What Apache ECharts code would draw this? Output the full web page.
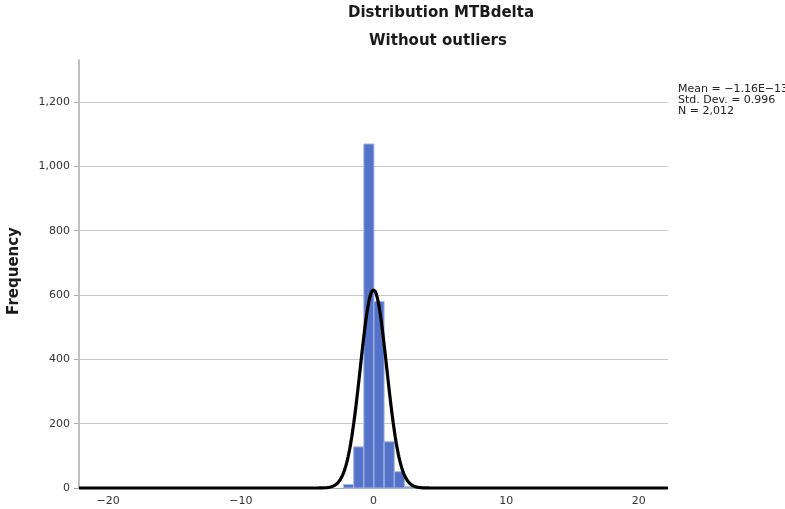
<!DOCTYPE html>
<html>
<head>
<meta charset="utf-8">
<script src="https://cdn.jsdelivr.net/npm/echarts@6/dist/echarts.min.js"></script>
<style>
  html, body { margin: 0; padding: 0; background: #fff; }
  #chart { width: 785px; height: 509px; }
</style>
</head>
<body>
<div id="chart"></div>
<script>
// Histogram of MTBdelta (outliers removed)
const binStart = -2.26;
const binWidth = 0.765;
const frequencies = [11, 128, 1070, 580, 144, 51, 4];

// Summary statistics shown beside the chart
const statMean = -1.16e-13;
const statStdDev = 0.996;
const statN = 2012;
const statLines = ['Mean = \u22121.16E\u221213', 'Std. Dev. = 0.996', 'N = 2,012'];

const yTicks = [200, 400, 600, 800, 1000, 1200];
const xMin = -22.2, xMax = 22.2;
const yMax = 1331;

// Histogram bins as [start, end, count]
const bins = frequencies.map((f, i) => [binStart + i * binWidth, binStart + (i + 1) * binWidth, f]);

// Fitted normal curve, scaled to counts per bin
const curve = [];
for (let x = xMin; x <= xMax + 1e-9; x += 0.04) {
  const z = (x - statMean) / statStdDev;
  const y = statN * binWidth / (statStdDev * Math.sqrt(2 * Math.PI)) * Math.exp(-0.5 * z * z);
  curve.push([x, y]);
}

const chart = echarts.init(document.getElementById('chart'), null, { renderer: 'canvas' });
const fmt = v => v.toLocaleString('en-US');
const titleFont = 'bold 15px "DejaVu Sans"';

chart.setOption({
  animation: false,
  textStyle: { fontFamily: 'DejaVu Sans' },
  grid: { left: 79, right: 117, top: 60, bottom: 21, containLabel: false },
  graphic: [
    { type: 'text', x: 441, y: 13, style: { text: 'Distribution MTBdelta', font: titleFont, fill: '#1a1a1a', textAlign: 'center', textVerticalAlign: 'middle' } },
    { type: 'text', x: 438, y: 41, style: { text: 'Without outliers', font: titleFont, fill: '#1a1a1a', textAlign: 'center', textVerticalAlign: 'middle' } },
    { type: 'text', x: 14, y: 271, rotation: Math.PI / 2,
      style: { text: 'Frequency', font: titleFont, fill: '#1a1a1a', textAlign: 'center', textVerticalAlign: 'middle' } },
    { type: 'text', x: 678, y: 84, style: { text: statLines.join('\n'), font: '11px "DejaVu Sans"', lineHeight: 11, fill: '#222' } }
  ],
  xAxis: {
    type: 'value', min: xMin, max: xMax, splitNumber: 4,
    axisLine: { show: true, onZero: false, lineStyle: { color: '#aaa', width: 1 } },
    axisTick: { show: false },
    splitLine: { show: false },
    axisLabel: {
      color: '#333', fontSize: 11, margin: 8,
      showMinLabel: false, showMaxLabel: false,
      formatter: v => String(v).replace('-', '\u2212')
    }
  },
  yAxis: {
    type: 'value', min: 0, max: yMax, interval: 200,
    axisLine: { show: true, onZero: false, lineStyle: { color: '#aaa', width: 1.5 } },
    axisTick: { show: true, length: 5, lineStyle: { color: '#aaa' } },
    splitLine: { show: false },
    axisLabel: {
      color: '#333', fontSize: 11, margin: 9, showMaxLabel: false,
      formatter: v => (v % 200 === 0 ? fmt(v) : '')
    }
  },
  series: [
    {
      type: 'line', data: [], silent: true, z: 1,
      markLine: {
        silent: true, symbol: 'none', label: { show: false }, z: 1,
        lineStyle: { color: '#c8c8c8', width: 1, type: 'solid' },
        data: yTicks.map(v => ({ yAxis: v }))
      }
    },
    {
      type: 'custom',
      data: bins,
      renderItem: (params, api) => {
        const p0 = api.coord([api.value(0), 0]);
        const p1 = api.coord([api.value(1), api.value(2)]);
        return {
          type: 'rect',
          shape: { x: p0[0], y: p1[1], width: p1[0] - p0[0], height: p0[1] - p1[1] },
          style: { fill: '#5473c8', stroke: '#a8bbe8', lineWidth: 1 }
        };
      },
      encode: { x: [0, 1], y: 2 },
      z: 3
    },
    {
      type: 'line', data: curve, showSymbol: false, smooth: false,
      lineStyle: { color: '#000', width: 3.2 }, z: 5, clip: false
    }
  ]
});
</script>
</body>
</html>
